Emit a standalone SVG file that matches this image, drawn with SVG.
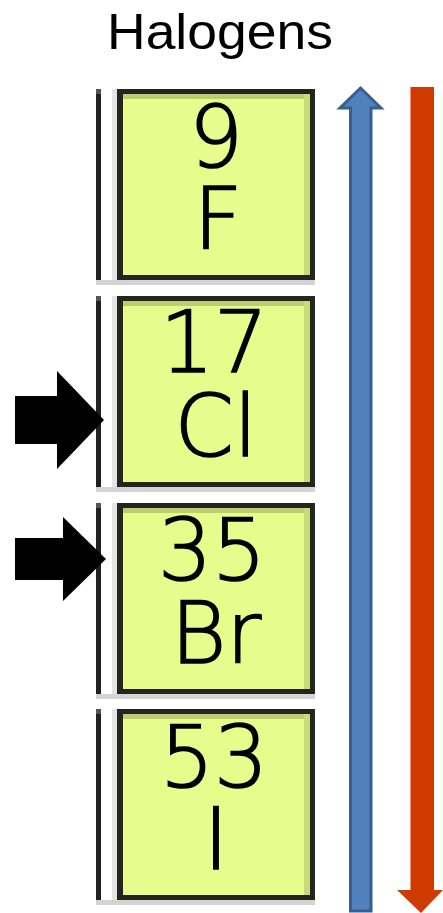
<svg xmlns="http://www.w3.org/2000/svg" width="443" height="913" viewBox="0 0 443 913">
<style>
.title{font-family:"Liberation Sans",Arial,sans-serif;font-size:50px;fill:#000}
.el{font-family:"DejaVu Sans",Verdana,sans-serif;font-size:85px;font-weight:200;fill:#000;stroke:#000;stroke-width:1.6;text-anchor:middle}
.bd{fill:#24251f}
.fl{fill:#e7fc8c}
.ht{fill:#bccc6e}
.hr{fill:#c9da7c}
.sh{fill:#d4d4d4}
.shl{fill:#e4e4e4}
.ln{fill:#1f2220}
.lc{fill:#555}
</style>
<defs>
<g id="box">
<rect class="shl" x="112" y="0" width="5" height="196"/>
<rect class="sh" x="96" y="191" width="219" height="5"/>
<rect class="ln" x="96" y="0" width="5" height="191"/>
<rect class="lc" x="96" y="0" width="5" height="5"/>
<rect class="bd" x="117" y="0" width="198" height="191"/>
<rect class="fl" x="123" y="5" width="187" height="181"/>
<rect class="ht" x="123" y="5" width="187" height="5"/>
<rect class="hr" x="304" y="5" width="6" height="181"/>
</g>
</defs>
<text class="title" x="107" y="49" textLength="226" lengthAdjust="spacingAndGlyphs">Halogens</text>
<g id="fluorine">
<use href="#box" y="89"/>
<text class="el"><tspan x="216" y="167">9</tspan><tspan x="218" y="249">F</tspan></text>
</g>
<g id="chlorine">
<use href="#box" y="296"/>
<text class="el"><tspan x="214" y="372">17</tspan><tspan x="216" y="456">Cl</tspan></text>
</g>
<g id="bromine">
<use href="#box" y="503"/>
<text class="el"><tspan x="212" y="580">35</tspan><tspan x="216" y="663">Br</tspan></text>
</g>
<g id="iodine">
<use href="#box" y="709"/>
<text class="el"><tspan x="214" y="787">53</tspan><tspan x="216" y="869">I</tspan></text>
</g>
<g id="connectors">
<polygon points="15,396 57,396 57,371 104,420 57,469 57,444 15,444" fill="#000"/>
<polygon points="15,538 63,538 63,517 106,559 63,601 63,580 15,580" fill="#000"/>
<polygon points="360.5,88 381,108 371,108 371,911 350.5,911 350.5,108 340,108" fill="#4f81bd" stroke="#3a5f8e" stroke-width="3" stroke-linejoin="miter"/>
<polygon points="410,87 434,87 434,890 443,890 421,913 397,890 410,890" fill="#cf3a03"/>
<line x1="410.5" y1="87" x2="410.5" y2="890" stroke="#e8957a" stroke-width="1"/>
</g>
</svg>
